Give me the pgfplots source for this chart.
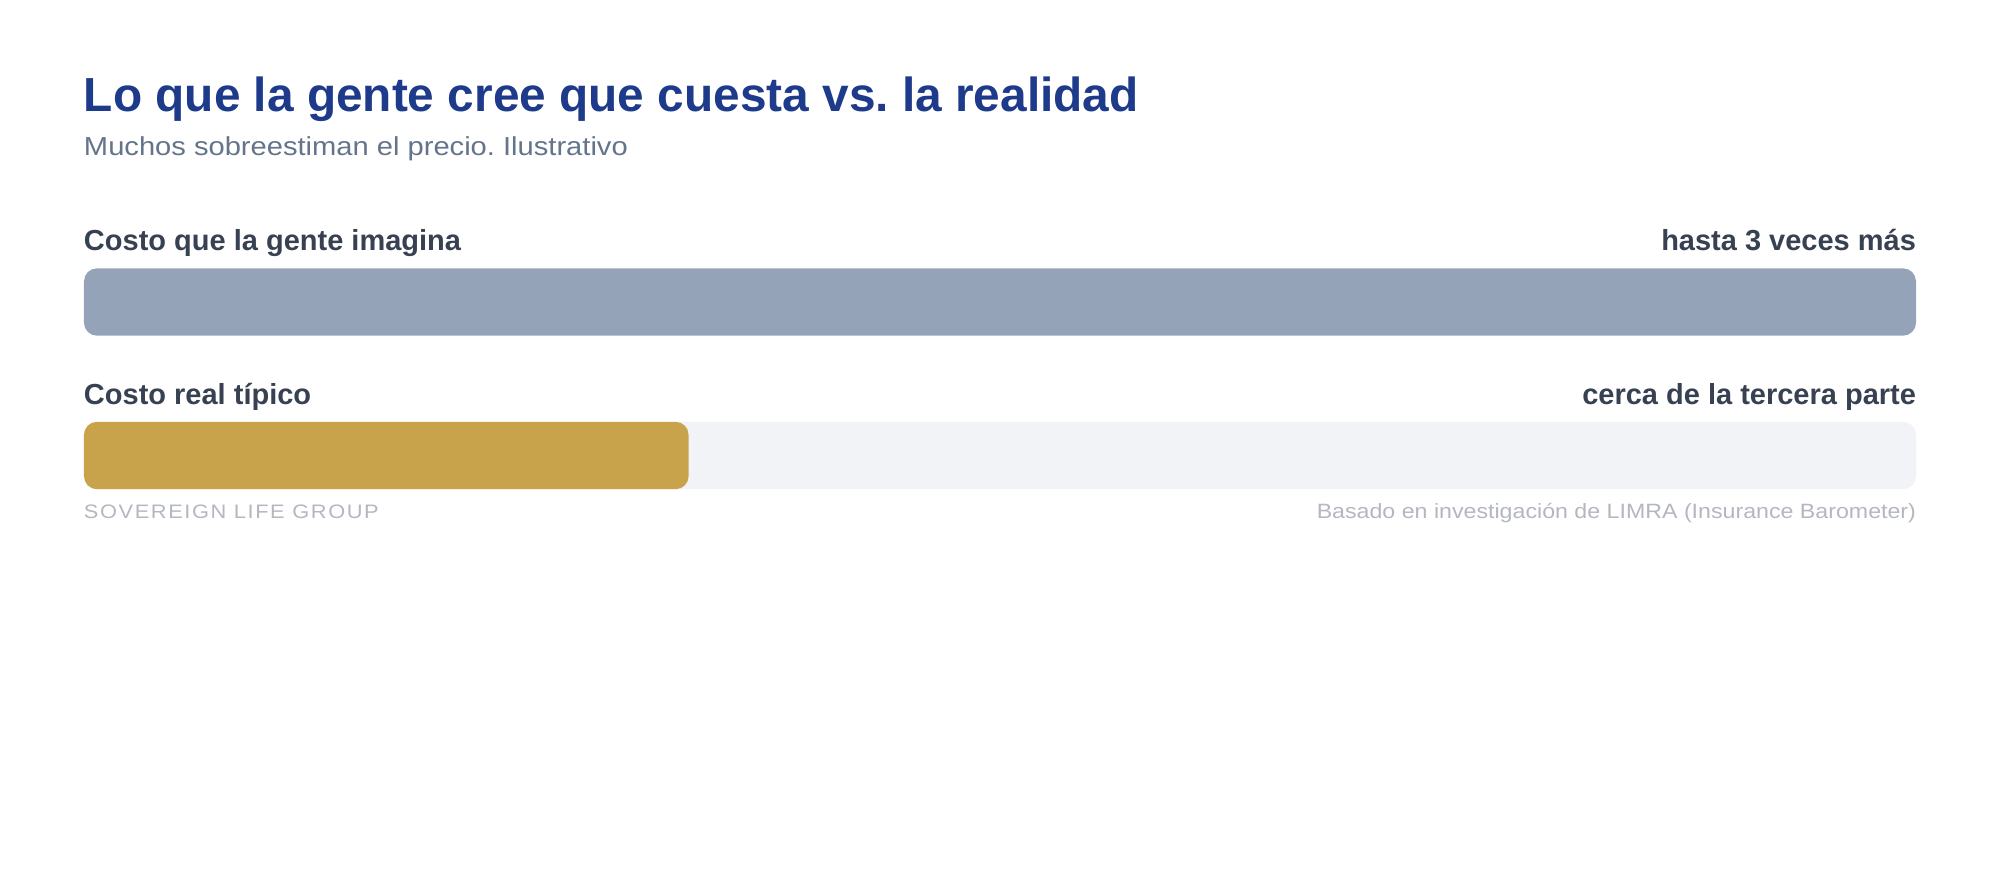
\documentclass[border=0pt]{standalone}
\usepackage{fontspec}
\setmainfont{Liberation Sans}
\newfontfamily\widefont[FakeStretch=1.12]{Liberation Sans}
\newfontfamily\spacedfont[FakeStretch=1.12,LetterSpace=8]{Liberation Sans}
\usepackage{pgfplots}
\pgfplotsset{compat=1.18}

\definecolor{titleblue}{HTML}{1E3A8A}
\definecolor{subgray}{HTML}{64748B}
\definecolor{labeldark}{HTML}{374151}
\definecolor{bargray}{HTML}{94A3B8}
\definecolor{track}{HTML}{F1F3F6}
\definecolor{gold}{HTML}{C9A24C}
\definecolor{footgray}{HTML}{B3B7BF}

\tikzset{txt/.style={inner sep=0pt, outer sep=0pt}}

\begin{document}
\frenchspacing
\begin{tikzpicture}
\begin{axis}[
    scale only axis,
    width=1000pt, height=440pt,
    xmin=-4.585, xmax=104.585,
    ymin=0, ymax=880, y dir=reverse,
    axis lines=none, ticks=none, clip=false,
    xbar, bar width=33.7pt, bar shift=0pt,
]
% imagined cost (full scale) and real cost (about a third)
\addplot[fill=bargray, draw=none, rounded corners=6.5pt] coordinates {(100,302)};
\addplot[fill=track, draw=none, rounded corners=6.5pt] coordinates {(100,455.5)};
\addplot[fill=gold, draw=none, rounded corners=6.5pt] coordinates {(33,455.5)};

\path (rel axis cs:0,0) rectangle (rel axis cs:1,1);

\node[txt, anchor=base west, font=\bfseries\fontsize{23.9}{28}\selectfont, text=titleblue]
    at (axis cs:0,111) {Lo que la gente cree que cuesta vs. la realidad};
\node[txt, anchor=base west, font=\widefont\fontsize{13}{16}\selectfont, text=subgray]
    at (axis cs:0,155) {Muchos sobreestiman el precio. Ilustrativo};

\node[txt, anchor=base west, font=\bfseries\fontsize{14.5}{17}\selectfont, text=labeldark]
    at (axis cs:0,250) {Costo que la gente imagina};
\node[txt, anchor=base east, font=\bfseries\fontsize{14.5}{17}\selectfont, text=labeldark]
    at (axis cs:100,250) {hasta 3 veces más};
\node[txt, anchor=base west, font=\bfseries\fontsize{14.5}{17}\selectfont, text=labeldark]
    at (axis cs:0,404) {Costo real típico};
\node[txt, anchor=base east, font=\bfseries\fontsize{14.5}{17}\selectfont, text=labeldark]
    at (axis cs:100,404) {cerca de la tercera parte};

\node[txt, anchor=base west, font=\spacedfont\fontsize{9.75}{12}\selectfont, text=footgray]
    at (axis cs:0,518.5) {SOVEREIGN LIFE GROUP};
\node[txt, anchor=base east, font=\widefont\fontsize{10.35}{12}\selectfont, text=footgray]
    at (axis cs:100,518.5) {Basado en investigación de LIMRA (Insurance Barometer)};
\end{axis}
\end{tikzpicture}
\end{document}
